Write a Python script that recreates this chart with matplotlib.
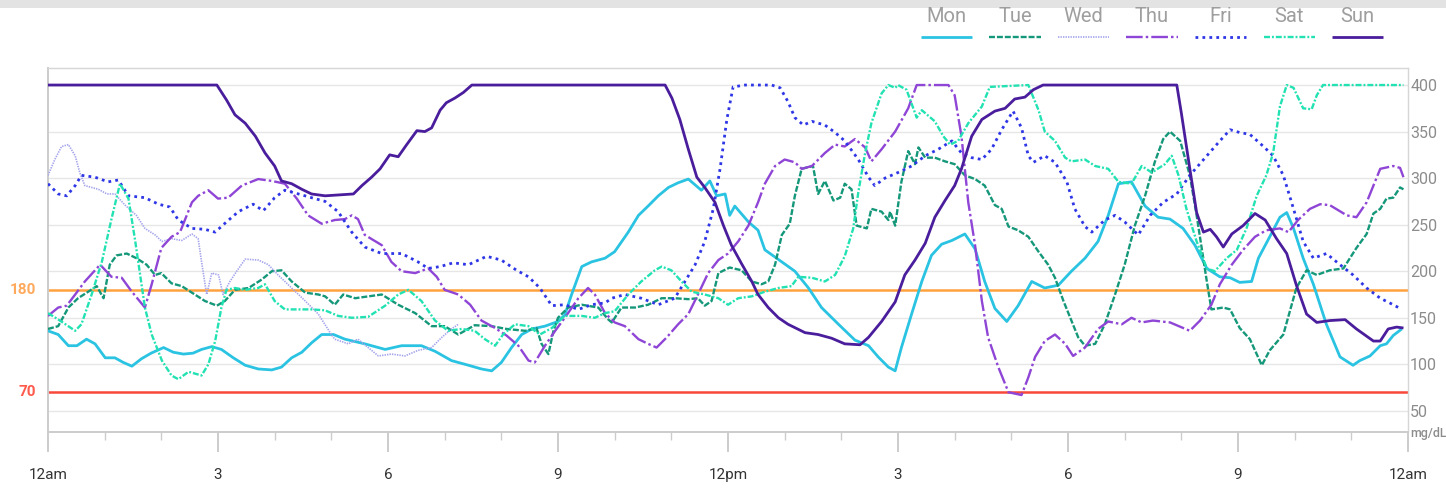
import matplotlib
matplotlib.use('Agg')
import matplotlib.pyplot as plt
from matplotlib.lines import Line2D
from matplotlib.patches import Rectangle
from matplotlib.transforms import blended_transform_factory

plt.rcParams['font.family'] = ['Roboto', 'DejaVu Sans']
plt.rcParams['lines.scale_dashes'] = False

# --- data (hours since midnight, mg/dL) ---
days = ['Mon', 'Tue', 'Wed', 'Thu', 'Fri', 'Sat', 'Sun']

mon_h = [0, 0.18, 0.36, 0.51, 0.68, 0.83, 1.01, 1.18, 1.33, 1.48, 1.65, 1.82, 2.04, 2.21, 2.39, 2.56, 2.71,
         2.89, 3.06, 3.27, 3.48, 3.71, 3.95, 4.12, 4.3, 4.48, 4.65, 4.83, 5.04, 5.24, 5.59, 5.95, 6.24, 6.59,
         6.83, 7.12, 7.42, 7.65, 7.83, 8.0, 8.18, 8.36, 8.54, 8.77, 9.0, 9.12, 9.24, 9.42, 9.59, 9.83, 10.0,
         10.24, 10.42, 10.59, 10.77, 10.95, 11.12, 11.3, 11.53, 11.68, 11.8, 11.95, 12.03, 12.12, 12.36,
         12.53, 12.65, 12.95, 13.18, 13.42, 13.65, 13.95, 14.24, 14.48, 14.65, 14.83, 14.95, 15.06, 15.24,
         15.42, 15.59, 15.77, 15.95, 16.18, 16.36, 16.53, 16.71, 16.92, 17.12, 17.36, 17.59, 17.83, 18.06,
         18.3, 18.53, 18.71, 18.89, 19.12, 19.36, 19.59, 19.8, 20.03, 20.24, 20.45, 20.68, 20.86, 21.03,
         21.24, 21.36, 21.56, 21.74, 21.86, 21.98, 22.15, 22.33, 22.56, 22.8, 23.03, 23.15, 23.33, 23.51,
         23.62, 23.74, 23.89]
mon_v = [136, 132, 120, 120, 127, 122, 107, 107, 102, 98, 106, 112, 118, 113, 111, 112, 116,
         119, 116, 107, 99, 95, 94, 97, 107, 113, 123, 132, 132, 127, 122, 116, 120, 120,
         114, 104, 99, 95, 93, 102, 118, 132, 138, 141, 146, 153, 175, 205, 210, 214, 221,
         242, 260, 270, 281, 290, 295, 299, 287, 297, 281, 283, 260, 270, 253,
         244, 223, 210, 200, 182, 161, 143, 126, 120, 108, 97, 93, 118, 154,
         189, 217, 229, 233, 240, 224, 189, 160, 146, 163, 189, 182, 185, 200,
         214, 232, 260, 294, 296, 270, 258, 256, 246, 228, 203, 194, 193, 188,
         189, 214, 237, 258, 263, 246, 214, 186, 143, 108, 99, 104, 109, 120,
         122, 131, 138]

tue_h = [0, 0.18, 0.36, 0.53, 0.71, 0.86, 0.98, 1.09, 1.21, 1.39, 1.56, 1.74, 1.89, 2.0, 2.18, 2.36, 2.54,
         2.77, 2.98, 3.12, 3.3, 3.54, 3.77, 3.95, 4.12, 4.3, 4.54, 4.77, 4.89, 5.06, 5.21, 5.42, 5.65, 5.89,
         6.18, 6.48, 6.77, 7.0, 7.24, 7.53, 7.83, 8.09, 8.42, 8.62, 8.71, 8.83, 8.92, 9.0, 9.18, 9.42, 9.71,
         9.89, 9.95, 10.12, 10.36, 10.59, 10.83, 11.06, 11.3, 11.47, 11.59, 11.71, 11.83, 12.03, 12.24,
         12.42, 12.59, 12.71, 12.83, 12.95, 13.09, 13.18, 13.3, 13.5, 13.59, 13.71, 13.86, 13.98, 14.06,
         14.18, 14.27, 14.45, 14.53, 14.71, 14.83, 14.86, 14.95, 15.06, 15.18, 15.3, 15.36, 15.48, 15.65,
         15.83, 16.0, 16.18, 16.36, 16.53, 16.71, 16.83, 16.95, 17.12, 17.3, 17.48, 17.65, 17.77, 17.92,
         18.06, 18.18, 18.3, 18.48, 18.65, 18.83, 19.0, 19.18, 19.36, 19.53, 19.68, 19.8, 19.98, 20.15,
         20.27, 20.45, 20.53, 20.74, 20.86, 21.03, 21.21, 21.42, 21.56, 21.8, 22.03, 22.21, 22.39, 22.62,
         22.86, 23.09, 23.27, 23.39, 23.51, 23.62, 23.74, 23.86, 23.92]
tue_v = [138, 141, 161, 171, 178, 184, 171, 207, 217, 219, 214, 207, 196, 198, 187, 184, 177,
         168, 163, 168, 180, 182, 191, 200, 201, 189, 177, 175, 173, 164, 175, 171, 173, 175,
         164, 155, 141, 141, 132, 142, 141, 138, 136, 139, 122, 111, 136, 150, 161, 164, 161,
         148, 145, 161, 161, 164, 171, 171, 170, 171, 163, 168, 198, 204, 201,
         189, 186, 189, 207, 239, 251, 281, 310, 313, 283, 297, 276, 279, 294,
         288, 249, 246, 267, 264, 255, 264, 249, 296, 329, 315, 333, 322, 322,
         318, 315, 303, 299, 292, 271, 267, 248, 244, 237, 221, 207, 193, 168,
         147, 129, 120, 122, 143, 175, 207, 249, 281, 317, 342, 350, 340, 303,
         260, 189, 159, 161, 159, 139, 127, 99, 115, 132, 182, 201, 196, 201,
         203, 225, 240, 262, 267, 278, 279, 290, 288]

wed_h = [0, 0.12, 0.24, 0.36, 0.48, 0.56, 0.65, 0.89, 1.04, 1.18, 1.36, 1.56, 1.71, 1.89, 2.01, 2.18, 2.36,
         2.54, 2.65, 2.71, 2.8, 2.89, 3.01, 3.09, 3.21, 3.33, 3.48, 3.71, 3.89, 4.06, 4.3, 4.54, 4.77, 5.0,
         5.06, 5.3, 5.47, 5.65, 5.83, 6.06, 6.3, 6.53, 6.77, 6.95, 7.12, 7.24]
wed_v = [303, 320, 334, 336, 324, 306, 292, 288, 283, 283, 271, 260, 246, 239, 232, 235, 233,
         240, 235, 210, 175, 198, 196, 175, 189, 200, 213, 212, 207, 196, 182, 168, 154, 132,
         127, 122, 127, 118, 109, 111, 109, 115, 118, 129, 138, 143]

thu_h = [0, 0.18, 0.33, 0.48, 0.65, 0.92, 1.12, 1.3, 1.48, 1.71, 1.83, 2.0, 2.18, 2.33, 2.54, 2.65, 2.83,
         3.0, 3.18, 3.42, 3.71, 3.95, 4.18, 4.39, 4.59, 4.83, 5.06, 5.24, 5.36, 5.47, 5.59, 5.89, 6.06, 6.24,
         6.48, 6.71, 6.86, 7.0, 7.24, 7.45, 7.65, 7.89, 8.09, 8.3, 8.48, 8.59, 8.77, 8.95, 9.12, 9.36, 9.53,
         9.65, 9.83, 10.0, 10.18, 10.42, 10.59, 10.74, 10.92, 11.12, 11.3, 11.47, 11.65, 11.83, 12.0, 12.18,
         12.36, 12.53, 12.65, 12.83, 13.0, 13.18, 13.3, 13.48, 13.71, 13.89, 14.06, 14.24, 14.42, 14.53,
         14.71, 14.95, 15.18, 15.33, 15.89, 16.0, 16.12, 16.24, 16.36, 16.48, 16.59, 16.77, 16.95, 17.18,
         17.3, 17.42, 17.59, 17.77, 17.95, 18.09, 18.3, 18.53, 18.71, 18.95, 19.12, 19.3, 19.5, 19.8, 20.15,
         20.33, 20.53, 20.68, 20.89, 21.09, 21.3, 21.5, 21.74, 21.89, 22.06, 22.27, 22.45, 22.62, 22.92,
         23.09, 23.27, 23.51, 23.74, 23.86, 23.92]
thu_v = [152, 161, 163, 175, 189, 207, 194, 193, 178, 161, 186, 225, 237, 242, 274, 281, 287,
         278, 279, 292, 299, 297, 294, 278, 260, 251, 255, 256, 260, 256, 239, 228, 210, 200,
         198, 203, 194, 180, 175, 164, 147, 139, 131, 120, 104, 102, 120, 136, 150, 171, 182,
         175, 155, 145, 141, 127, 122, 118, 129, 143, 154, 175, 198, 212, 219, 232,
         249, 274, 294, 313, 320, 317, 310, 313, 327, 336, 334, 342, 333, 318,
         331, 350, 375, 400, 400, 389, 345, 274, 228, 168, 129, 97, 70, 67,
         86, 108, 125, 132, 122, 109, 118, 138, 146, 143, 150, 145, 147, 145, 136,
         147, 164, 186, 207, 223, 237, 244, 246, 242, 255, 267, 272, 271, 260,
         258, 274, 310, 313, 311, 301]

fri_h = [0, 0.18, 0.33, 0.48, 0.59, 0.83, 1.06, 1.24, 1.42, 1.71, 1.95, 2.15, 2.3, 2.54, 2.77, 2.95, 3.15,
         3.36, 3.62, 3.8, 4.0, 4.18, 4.42, 4.65, 4.89, 5.12, 5.36, 5.59, 5.89, 6.24, 6.53, 6.71, 6.92, 7.15,
         7.42, 7.74, 8.0, 8.27, 8.48, 8.68, 8.89, 9.12, 9.36, 9.59, 9.83, 9.95, 10.18, 10.47, 10.77, 11.06,
         11.24, 11.42, 11.59, 11.74, 11.86, 11.98, 12.09, 12.3, 12.77, 12.92, 13.06, 13.18, 13.33, 13.48,
         13.71, 13.89, 14.06, 14.3, 14.48, 14.59, 14.77, 15.0, 15.24, 15.48, 15.71, 15.95, 16.12, 16.3,
         16.48, 16.65, 16.83, 17.03, 17.18, 17.3, 17.39, 17.59, 17.77, 17.98, 18.12, 18.3, 18.42, 18.65,
         18.83, 19.0, 19.24, 19.45, 19.68, 19.92, 20.15, 20.45, 20.68, 20.86, 21.03, 21.21, 21.45, 21.62,
         21.8, 21.98, 22.15, 22.33, 22.56, 22.8, 23.03, 23.27, 23.51, 23.74, 23.89]
fri_v = [294, 283, 281, 292, 303, 301, 296, 298, 281, 279, 272, 269, 255, 246, 245, 242, 253,
         264, 272, 265, 279, 287, 283, 279, 275, 264, 242, 226, 219, 219, 210, 203, 205, 209,
         207, 216, 212, 201, 194, 182, 163, 164, 159, 164, 166, 171, 175, 171, 164, 171,
         189, 207, 232, 267, 310, 363, 398, 400, 400, 397, 382, 365, 357, 361,
         357, 349, 340, 320, 301, 292, 300, 306, 313, 324, 331, 340, 327, 322,
         320, 331, 352, 372, 354, 324, 317, 324, 317, 296, 267, 248, 242, 255,
         260, 253, 239, 260, 274, 283, 303, 324, 340, 352, 349, 347, 334, 324,
         303, 267, 232, 214, 219, 207, 196, 182, 171, 164, 159]

sat_h = [0, 0.21, 0.48, 0.59, 0.77, 0.95, 1.12, 1.27, 1.42, 1.54, 1.71, 1.83, 2.01, 2.18, 2.3, 2.48, 2.71,
         2.83, 2.95, 3.06, 3.15, 3.3, 3.48, 3.71, 3.83, 4.0, 4.18, 4.42, 4.65, 4.89, 5.12, 5.36, 5.65, 5.95,
         6.18, 6.36, 6.59, 6.83, 7.06, 7.3, 7.53, 7.71, 7.89, 8.03, 8.24, 8.48, 8.68, 8.89, 9.12, 9.42, 9.65,
         9.83, 10.0, 10.24, 10.47, 10.71, 10.83, 11.0, 11.18, 11.36, 11.59, 11.83, 12.0, 12.18, 12.42, 12.65,
         12.89, 13.12, 13.24, 13.48, 13.71, 13.89, 14.06, 14.21, 14.3, 14.42, 14.53, 14.71, 14.83, 14.95,
         15.0, 15.15, 15.33, 15.42, 15.65, 15.8, 15.92, 16.06, 16.24, 16.48, 16.62, 17.3, 17.48, 17.59,
         17.77, 17.95, 18.06, 18.3, 18.48, 18.71, 18.89, 19.12, 19.3, 19.48, 19.71, 19.83, 19.95, 20.09,
         20.27, 20.45, 20.59, 20.8, 20.98, 21.15, 21.33, 21.5, 21.62, 21.74, 21.86, 21.98, 22.15, 22.3,
         22.39, 22.5, 23.92]
sat_v = [155, 147, 136, 143, 175, 210, 256, 294, 278, 232, 161, 132, 104, 88, 84, 92, 88,
         100, 125, 161, 180, 182, 180, 182, 186, 168, 159, 159, 159, 158, 152, 150, 151, 163,
         175, 180, 168, 147, 136, 138, 136, 127, 120, 132, 143, 141, 132, 139, 152, 152, 150,
         155, 157, 175, 189, 201, 205, 201, 189, 178, 175, 171, 164, 171, 173, 178,
         182, 184, 194, 193, 189, 196, 216, 246, 285, 327, 359, 391, 400, 397,
         400, 395, 365, 373, 361, 345, 336, 340, 359, 377, 398, 400, 373, 350,
         340, 322, 318, 320, 313, 310, 296, 294, 313, 306, 315, 324, 303, 267,
         232, 203, 200, 214, 223, 246, 281, 303, 327, 377, 400, 397, 375, 374,
         389, 400, 400]

sun_h = [0, 2.98, 3.15, 3.3, 3.48, 3.66, 3.83, 4.0, 4.12, 4.3, 4.48, 4.65, 4.89, 5.39, 5.54, 5.71, 5.86,
         6.03, 6.18, 6.33, 6.51, 6.65, 6.77, 6.92, 7.03, 7.18, 7.33, 7.48, 10.89, 11.01, 11.15, 11.3, 11.45,
         11.59, 11.77, 11.92, 12.06, 12.24, 12.42, 12.53, 12.71, 12.89, 13.06, 13.36, 13.59, 13.83, 14.06,
         14.33, 14.48, 14.71, 14.95, 15.12, 15.3, 15.48, 15.65, 15.83, 16.0, 16.12, 16.3, 16.48, 16.71,
         16.89, 17.06, 17.24, 17.39, 17.56, 19.92, 20.0, 20.15, 20.27, 20.39, 20.51, 20.62, 20.74, 20.89,
         21.09, 21.3, 21.48, 21.68, 21.86, 22.03, 22.21, 22.39, 22.62, 22.89, 23.09, 23.39, 23.51, 23.65,
         23.8, 23.92]
sun_v = [400, 400, 384, 368, 359, 345, 327, 313, 297, 294, 288, 283, 281, 283, 292, 301, 310,
         325, 323, 336, 351, 350, 354, 373, 381, 386, 392, 400, 400, 386, 363, 331, 301,
         290, 274, 249, 228, 208, 189, 175, 161, 150, 143, 134, 132, 128, 122,
         121, 129, 146, 167, 196, 212, 230, 258, 276, 292, 310, 345, 363, 372,
         375, 385, 387, 395, 400, 400, 370, 310, 263, 242, 245, 237, 226, 240,
         249, 262, 255, 235, 219, 185, 154, 145, 147, 148, 138, 125, 125, 138,
         140, 139]

series = [(mon_h, mon_v), (tue_h, tue_v), (wed_h, wed_v), (thu_h, thu_v),
          (fri_h, fri_v), (sat_h, sat_v), (sun_h, sun_v)]

high_limit = 180
low_limit = 70
x_ticks = [0, 3, 6, 9, 12, 15, 18, 21, 24]
x_labels = ['12am', '3', '6', '9', '12pm', '3', '6', '9', '12am']
y_ticks = [50, 100, 150, 200, 250, 300, 350, 400]

# --- styles ---
styles = {
    'Mon': dict(color='#2ac3e2', lw=2.0),
    'Tue': dict(color='#15977a', lw=1.7, dashes=(4.3, 1.4)),
    'Wed': dict(color='#a3a3ec', lw=1.2, dashes=(1.0, 0.8)),
    'Thu': dict(color='#8f45d5', lw=1.7, dashes=(12, 2.2, 1.8, 2.2)),
    'Fri': dict(color='#2e36e6', lw=2.0, dashes=(2.0, 3.0)),
    'Sat': dict(color='#22e2b3', lw=1.7, dashes=(4.3, 1.4, 1.4, 1.4)),
    'Sun': dict(color='#4a1d9c', lw=2.0),
}

W, H = 1446, 488
fig = plt.figure(figsize=(W / 100, H / 100), dpi=100)
ax = fig.add_axes([48 / W, 1 - 432 / H, 1360 / W, 364 / H])

for d, (h, v) in zip(days, series):
    ax.plot(h, v, zorder=3, solid_capstyle='butt', dash_capstyle='butt', **styles[d])

ax.axhline(high_limit, color='#ffa13d', lw=1.8, zorder=2)
ax.axhline(low_limit, color='#f8483a', lw=1.8, zorder=2)

ax.set_xlim(0, 24)
ax.set_ylim(27.3, 418.3)

ax.set_xticks(x_ticks)
ax.set_xticklabels(x_labels)
ax.set_xticks(range(0, 25), minor=True)
ax.tick_params(axis='x', which='major', direction='out', length=14.4, width=1.4,
               color='#cccccc', pad=11.5, labelsize=11, labelcolor='#333333')
ax.tick_params(axis='x', which='minor', direction='out', length=5.8, width=1.0, color='#cccccc')

ax.yaxis.tick_right()
ax.set_yticks(y_ticks)
ax.tick_params(axis='y', length=0, pad=1.5, labelsize=11.5, labelcolor='#8c8c8c')
ax.grid(axis='y', color='#e6e6e6', lw=1)
ax.set_axisbelow(True)

for side in ['left', 'bottom']:
    ax.spines[side].set_color('#cccccc')
    ax.spines[side].set_linewidth(1.4)
for side in ['top', 'right']:
    ax.spines[side].set_color('#d6d6d6')
    ax.spines[side].set_linewidth(1.0)

tr = blended_transform_factory(ax.transAxes, ax.transData)
ax.text(-0.009, high_limit, str(high_limit), transform=tr, ha='right', va='center',
        fontsize=11, fontweight='bold', color='#ffa95c')
ax.text(-0.009, low_limit, str(low_limit), transform=tr, ha='right', va='center',
        fontsize=11, fontweight='bold', color='#ff5a4c')
fig.text(1410 / W, 1 - 433 / H, 'mg/dL', ha='left', va='center', fontsize=9,
         fontweight='medium', color='#8c8c8c')

# top grey band
fig.patches.append(Rectangle((0, 1 - 8 / H), 1, 8 / H, transform=fig.transFigure,
                             facecolor='#e3e3e3', edgecolor='none'))

# legend: labels above line samples
for i, d in enumerate(days):
    cx = (946.5 + i * 68.5) / W
    fig.text(cx, 1 - 16.5 / H, d, ha='center', va='center', fontsize=14.5, color='#9e9e9e')
    fig.add_artist(Line2D([cx - 25.5 / W, cx + 25.5 / W], [1 - 37 / H, 1 - 37 / H],
                          transform=fig.transFigure, solid_capstyle='butt',
                          dash_capstyle='butt', **styles[d]))

fig.savefig('out.png', dpi=100)
